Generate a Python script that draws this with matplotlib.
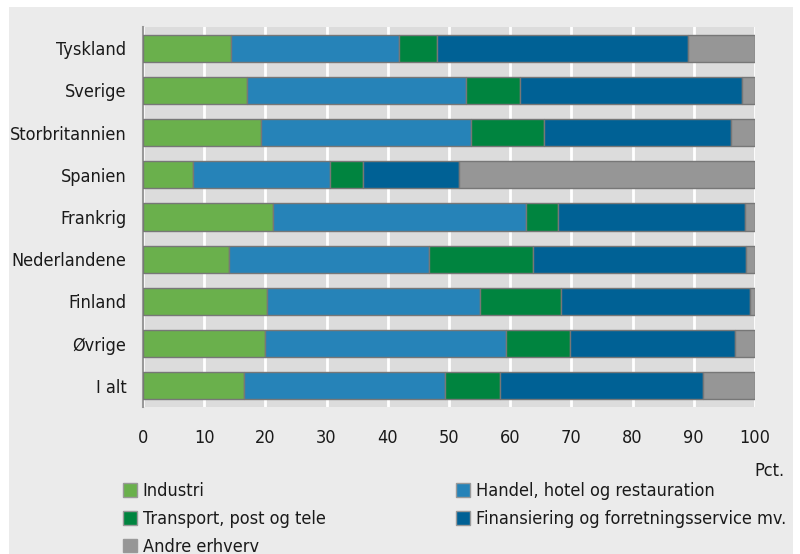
import matplotlib
matplotlib.use("Agg")
import matplotlib.pyplot as plt
from matplotlib.patches import Rectangle, Patch
import numpy as np

# smal skrift, som i forlaegget
plt.rcParams['font.family'] = ['DejaVu Sans']
plt.rcParams['font.stretch'] = 'condensed'

lande = ["Tyskland", "Sverige", "Storbritannien", "Spanien", "Frankrig",
         "Nederlandene", "Finland", "Øvrige", "I alt"]

industri = [14.3, 17.0, 19.3, 8.2, 21.3, 14.0, 20.2, 20.0, 16.5]
handel = [27.6, 35.8, 34.3, 22.4, 41.2, 32.8, 34.8, 39.3, 32.9]
transport = [6.1, 8.8, 11.9, 5.3, 5.3, 16.9, 13.3, 10.4, 9.0]
finans = [41.0, 36.3, 30.6, 15.7, 30.5, 34.8, 30.9, 27.0, 33.1]
andre = [11.0, 2.1, 3.9, 48.4, 1.7, 1.5, 0.8, 3.3, 8.5]

serier = [
    ("Industri", industri, "#6ab04c"),
    ("Handel, hotel og restauration", handel, "#2683b8"),
    ("Transport, post og tele", transport, "#00843f"),
    ("Finansiering og forretningsservice mv.", finans, "#006195"),
    ("Andre erhverv", andre, "#969696"),
]

fig = plt.figure(figsize=(8, 5.54), dpi=100, facecolor="white")
fig.patches.append(Rectangle((9/800, 0), 784/800, 1 - 7/554, transform=fig.transFigure,
                             facecolor="#ebebeb", edgecolor="none", zorder=-10))

ax = fig.add_axes([143/800, 1 - 407/554, 612/800, 380/554])
ax.set_facecolor("#dcdcdc")

y = np.arange(len(lande))
left = np.zeros(len(lande))
for navn, vals, farve in serier:
    ax.barh(y, vals, left=left, height=0.64, color=farve, edgecolor="#777777",
            linewidth=1, label=navn, zorder=3)
    left += np.array(vals)

ax.set_xlim(0, 100)
ax.set_ylim(len(lande) - 0.5, -0.5)
ax.set_yticks(y)
ax.set_yticklabels(lande, fontsize=13, color="#1a1a1a")
ax.set_xticks(range(0, 101, 10))
ax.tick_params(axis="x", labelsize=13, labelcolor="#1a1a1a", length=0, pad=16)
ax.tick_params(axis="y", length=0, pad=12)
ax.grid(axis="x", color="white", linewidth=2, zorder=0)
ax.set_axisbelow(True)
for s in ["top", "right", "bottom"]:
    ax.spines[s].set_visible(False)
ax.spines["left"].set_color("#999999")
ax.spines["left"].set_linewidth(1.5)

fig.text(785/800, 1 - 471/554, "Pct.", ha="right", va="center", fontsize=13,
         color="#1a1a1a")

handles = [Patch(facecolor=f, edgecolor="#999999", label=n) for n, v, f in serier]
order = [0, 2, 4, 1, 3]
leg = fig.legend([handles[i] for i in order], [serier[i][0] for i in order],
                 loc="upper left", bbox_to_anchor=(123/800, 1 - 482/554), ncol=2,
                 frameon=False, fontsize=13, handlelength=0.8, handleheight=0.8,
                 handletextpad=0.3, columnspacing=7.2, labelspacing=0.55,
                 borderpad=0, borderaxespad=0)
for t in leg.get_texts():
    t.set_color("#1a1a1a")

fig.savefig("out.png", dpi=100, facecolor=fig.get_facecolor())
